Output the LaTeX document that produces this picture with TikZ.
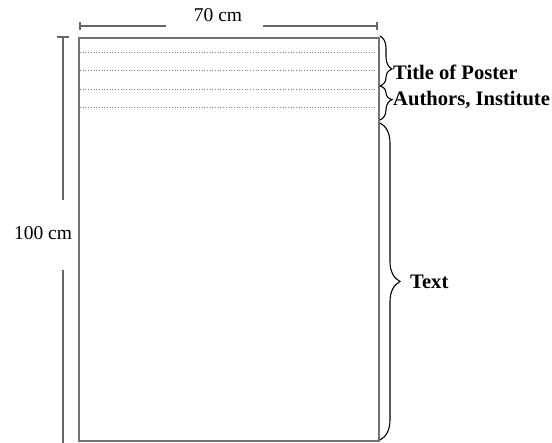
\documentclass[tikz,border=0pt]{standalone}
\usepackage{fontspec}
\setmainfont{Liberation Serif}
\usetikzlibrary{decorations.pathreplacing}
\begin{document}
\begin{tikzpicture}[x=1pt,y=-1pt,
  frame/.style={draw=black!55,line width=1.6pt},
  guide/.style={draw=black!50,line width=0.7pt,dotted},
  dimline/.style={draw=black!60,line width=1.6pt},
  bracestyle/.style={draw=black,line width=1.1pt,decorate},
  lbl/.style={font=\fontsize{19.5}{22}\selectfont,inner sep=0pt},
  blbl/.style={font=\fontsize{20.6}{23}\selectfont\bfseries,inner sep=0pt,anchor=west}]
\useasboundingbox (0,0) rectangle (552,443);
% poster sheet
\node[frame,minimum width=300pt,minimum height=403pt,inner sep=0pt,anchor=north west] (poster) at (78,37) {};
% dotted guide lines
\foreach \yy/\nm in {52/g1,70/g2,89/g3,107/g4}{
  \coordinate (\nm a) at (80,\yy);
  \coordinate (\nm b) at (376,\yy);
  \draw[guide] (\nm a) -- (\nm b);
}
% width dimension
\node[lbl] (w) at (218,15) {70 cm};
\coordinate (wl) at (80,26);
\coordinate (wr) at (377,26);
\coordinate (wl2) at (166,26);
\coordinate (wr2) at (263,26);
\draw[dimline] (wl) -- (wl2);
\draw[dimline] (wr2) -- (wr);
\draw[dimline] ([yshift=-4pt]wl) -- ([yshift=4pt]wl);
\draw[dimline] ([yshift=-4pt]wr) -- ([yshift=4pt]wr);
% height dimension
\node[lbl] (h) at (43,233) {100 cm};
\coordinate (ht) at (63,37);
\coordinate (hb) at (63,443);
\coordinate (ht2) at (63,200);
\coordinate (hb2) at (63,270);
\draw[dimline] (ht) -- (ht2);
\draw[dimline] (hb2) -- (hb);
\draw[dimline] ([xshift=-6pt]ht) -- ([xshift=6pt]ht);
% braces
\coordinate (b1s) at (380,36);
\coordinate (b1e) at (380,86);
\coordinate (b2e) at (380,120);
\coordinate (b3s) at (380,123);
\coordinate (b3e) at (380,440);
\draw[bracestyle,decoration={brace,amplitude=12pt,aspect=0.66}] (b1s) -- (b1e);
\draw[bracestyle,decoration={brace,amplitude=12pt,aspect=0.4}] (b1e) -- (b2e);
\draw[bracestyle,decoration={brace,amplitude=20pt,aspect=0.5}] (b3s) -- (b3e);
\node[blbl] (title) at (393,72) {Title of Poster};
\node[blbl] (auth) at (393,100) {Authors, Institute};
\node[blbl] (text) at (410,282) {Text};
\end{tikzpicture}
\end{document}
